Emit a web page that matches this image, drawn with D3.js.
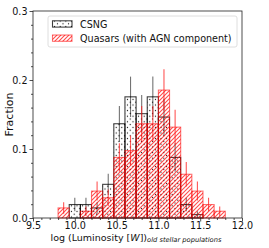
<!DOCTYPE html>
<html><head><meta charset="utf-8">
<script src="https://cdn.jsdelivr.net/npm/d3@7"></script>
<style>body{margin:0;background:#fff}svg{display:block}</style>
</head><body><svg id="c" width="269" height="248"></svg>
<script>
const binLefts = [9.8, 9.9333, 10.0667, 10.2, 10.3333, 10.4667, 10.6, 10.7333, 10.8667, 11.0, 11.1333, 11.2667, 11.4, 11.5333, 11.6667];
const binWidth = 0.13333;
const csng = [0, 0.0195, 0.0195, 0.0146, 0.0488, 0.1366, 0.1756, 0.1512, 0.1756, 0.1463, 0.0878, 0.0195, 0.0049, 0, 0];
const csngErr = [0, 0.0098, 0.0098, 0.0084, 0.0154, 0.0258, 0.0293, 0.0272, 0.0293, 0.0267, 0.0207, 0.0098, 0.0049, 0, 0];
const quasars = [0.0146, 0, 0.0098, 0.039, 0.0293, 0.0878, 0.0976, 0.1366, 0.1366, 0.1854, 0.1317, 0.0634, 0.039, 0.0195, 0.0098];
const quasarsErr = [0.0084, 0, 0.0069, 0.0138, 0.0119, 0.0207, 0.0218, 0.0258, 0.0258, 0.0301, 0.0253, 0.0176, 0.0138, 0.0098, 0.0069];
const xTicks = [9.5, 10.0, 10.5, 11.0, 11.5, 12.0];
const yTicks = [0.0, 0.1, 0.2, 0.3];
const seriesNames = ["CSNG", "Quasars (with AGN component)"];

const svg = d3.select("#c");
const x = d3.scaleLinear().domain([9.5, 12.0]).range([33, 242]);
const y = d3.scaleLinear().domain([0, 0.3]).range([218, 11]);

const defs = svg.append("defs");
const pd = defs.append("pattern").attr("id","dots").attr("patternUnits","userSpaceOnUse")
  .attr("width",5.6).attr("height",5.6);
pd.append("circle").attr("cx",1.4).attr("cy",1.4).attr("r",0.6).attr("fill","#000");
pd.append("circle").attr("cx",4.2).attr("cy",4.2).attr("r",0.6).attr("fill","#000");
const ph = defs.append("pattern").attr("id","hatch").attr("patternUnits","userSpaceOnUse")
  .attr("width",4).attr("height",4);
ph.append("path").attr("d","M-1,1 L1,-1 M0,4 L4,0 M3,5 L5,3")
  .attr("stroke","rgba(255,0,0,0.7)").attr("stroke-width",1.1);

const rows = binLefts.map((b,i)=>({b, c:csng[i], ce:csngErr[i], q:quasars[i], qe:quasarsErr[i]}));

// CSNG bars
svg.append("g").selectAll("rect").data(rows.filter(d=>d.c>0)).join("rect")
  .attr("x", d=>x(d.b)).attr("width", d=>x(d.b+binWidth)-x(d.b))
  .attr("y", d=>y(d.c)).attr("height", d=>y(0)-y(d.c))
  .attr("fill","url(#dots)").attr("stroke","rgba(0,0,0,0.75)").attr("stroke-width",1.1);
// CSNG errors
svg.append("g").selectAll("line").data(rows.filter(d=>d.ce>0)).join("line")
  .attr("x1", d=>x(d.b+binWidth/2)).attr("x2", d=>x(d.b+binWidth/2))
  .attr("y1", d=>y(d.c-d.ce)).attr("y2", d=>y(d.c+d.ce))
  .attr("stroke","rgba(0,0,0,0.55)").attr("stroke-width",1.1);
// Quasar bars
svg.append("g").selectAll("rect").data(rows.filter(d=>d.q>0)).join("rect")
  .attr("x", d=>x(d.b)).attr("width", d=>x(d.b+binWidth)-x(d.b))
  .attr("y", d=>y(d.q)).attr("height", d=>y(0)-y(d.q))
  .attr("fill","url(#hatch)").attr("stroke","rgba(255,0,0,0.55)").attr("stroke-width",1.1);
svg.append("g").selectAll("line").data(rows.filter(d=>d.qe>0)).join("line")
  .attr("x1", d=>x(d.b+binWidth/2)).attr("x2", d=>x(d.b+binWidth/2))
  .attr("y1", d=>y(d.q-d.qe)).attr("y2", d=>y(d.q+d.qe))
  .attr("stroke","rgba(255,30,30,0.75)").attr("stroke-width",1.1);

// axes
const font = "DejaVu Sans";
const gx = svg.append("g").attr("transform","translate(0,218)")
  .call(d3.axisBottom(x).tickValues(xTicks).tickFormat(d3.format(".1f")).tickSize(3.5).tickPadding(1));
const gxm = svg.append("g").attr("transform","translate(0,218)")
  .call(d3.axisBottom(x).tickValues(d3.range(9.6,12.0,0.1).filter(v=>Math.abs(v*2-Math.round(v*2))>0.01)).tickFormat("").tickSize(2));
const gy = svg.append("g").attr("transform","translate(33,0)")
  .call(d3.axisLeft(y).tickValues(yTicks).tickFormat(d3.format(".1f")).tickSize(3.5).tickPadding(2));
const gym = svg.append("g").attr("transform","translate(33,0)")
  .call(d3.axisLeft(y).tickValues(d3.range(0.02,0.3,0.02).filter(v=>Math.abs(v*10-Math.round(v*10))>0.01)).tickFormat("").tickSize(2));
[gx,gxm,gy,gym].forEach(g=>{g.select(".domain").remove();
  g.selectAll("line").attr("stroke","#222").attr("stroke-width",0.8);
  g.selectAll("text").attr("font-family",font).attr("font-size",9.6).attr("fill","#111");});
svg.append("rect").attr("x",33).attr("y",11).attr("width",209).attr("height",207)
  .attr("fill","none").attr("stroke","#222").attr("stroke-width",0.8);

// labels
svg.append("text").attr("transform","translate(12.5,114.5) rotate(-90)").attr("text-anchor","middle")
  .attr("font-family",font).attr("font-size",11).attr("fill","#111").text("Fraction");
const xl = svg.append("text").attr("x",50.5).attr("y",240.5).attr("font-family",font).attr("font-size",9.5).attr("fill","#111");
xl.append("tspan").text("log (Luminosity [");
xl.append("tspan").attr("font-style","italic").text("W");
xl.append("tspan").text("])");
xl.append("tspan").attr("font-style","italic").attr("font-size",6.7).attr("dy",1.5).text("old stellar populations");

// legend
const lg = svg.append("g");
lg.append("rect").attr("x",48).attr("y",16).attr("width",189).attr("height",31).attr("rx",2)
  .attr("fill","rgba(255,255,255,0.85)").attr("stroke","#d6d6d6").attr("stroke-width",0.8);
lg.append("rect").attr("x",52.5).attr("y",20.8).attr("width",19.5).attr("height",6.3)
  .attr("fill","url(#dots)").attr("stroke","rgba(0,0,0,0.75)").attr("stroke-width",1.1);
lg.append("rect").attr("x",52.5).attr("y",35).attr("width",19.5).attr("height",6.3)
  .attr("fill","url(#hatch)").attr("stroke","rgba(255,0,0,0.55)").attr("stroke-width",1.1);
lg.selectAll("text.l").data(seriesNames).join("text").attr("class","l")
  .attr("x",80).attr("y",(d,i)=>27.6+i*14).attr("font-family",font).attr("font-size",9.6).attr("fill","#111")
  .text(d=>d);
</script></body></html>
